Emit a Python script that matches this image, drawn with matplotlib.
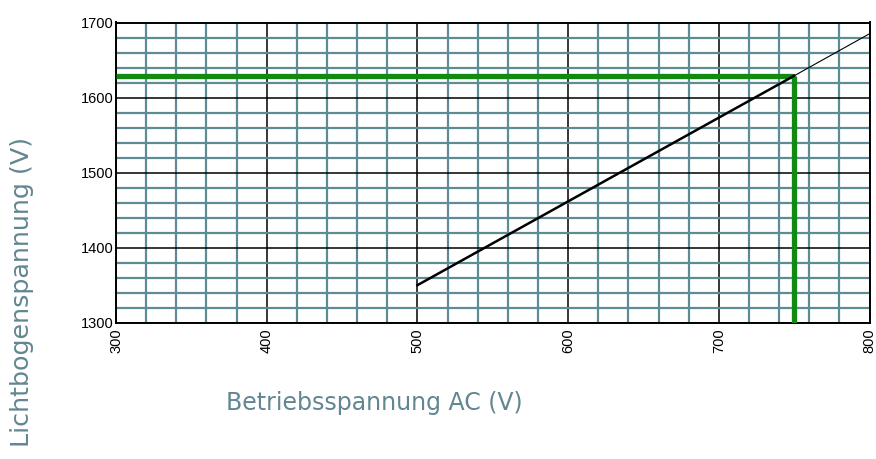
import matplotlib
matplotlib.use("Agg")
import matplotlib.pyplot as plt
from matplotlib.ticker import MultipleLocator

# Operating voltage (AC) vs. arc voltage
op_voltage = [500, 750]
arc_voltage = [1350, 1629]
ext_voltage = [750, 800]
ext_arc = [1629, 1685]

# Reading at the rated operating voltage
rated_op = 750
rated_arc = 1629

x_ticks = [300, 400, 500, 600, 700, 800]
y_ticks = [1300, 1400, 1500, 1600, 1700]

fig = plt.figure(figsize=(8.76, 4.59), dpi=100)
ax = fig.add_axes([116 / 876, 1 - 322.7 / 459, (869.5 - 116) / 876, (322.7 - 22.5) / 459])

ax.set_xlim(300, 800)
ax.set_ylim(1300, 1700)
ax.set_xticks(x_ticks)
ax.set_yticks(y_ticks)
ax.xaxis.set_minor_locator(MultipleLocator(20))
ax.yaxis.set_minor_locator(MultipleLocator(20))

ax.grid(which="minor", color="#5e8c95", linewidth=1.6, zorder=0)
ax.grid(which="major", color="black", linewidth=1.1, zorder=0.5)
ax.set_axisbelow(True)
ax.tick_params(which="both", length=0)
ax.tick_params(axis="x", labelrotation=90, pad=4)
ax.tick_params(axis="y", pad=2)
for lab in ax.get_xticklabels() + ax.get_yticklabels():
    lab.set_fontfamily("Liberation Sans")
    lab.set_fontsize(10.5)

for sp in ax.spines.values():
    sp.set_color("black")
    sp.set_linewidth(1.4)

ax.plot([300, rated_op], [rated_arc, rated_arc], color="#128a12", linewidth=3.8,
        solid_capstyle="butt", zorder=3)
ax.plot([rated_op, rated_op], [rated_arc, 1300], color="#128a12", linewidth=3.8,
        solid_capstyle="butt", zorder=3)
ax.plot(op_voltage, arc_voltage, color="black", linewidth=1.8, zorder=4)
ax.plot(ext_voltage, ext_arc, color="black", linewidth=0.8, zorder=4)

label_color = "#628692"
fig.text(374 / 876, 1 - 403 / 459, "Betriebsspannung AC (V)", ha="center", va="center",
         fontsize=17, color=label_color, family="DejaVu Sans")
fig.text(22 / 876, 1 - 292 / 459, "Lichtbogenspannung (V)", ha="center", va="center",
         rotation=90, fontsize=18.3, color=label_color, family="DejaVu Sans")

fig.savefig("out.png", dpi=100)
